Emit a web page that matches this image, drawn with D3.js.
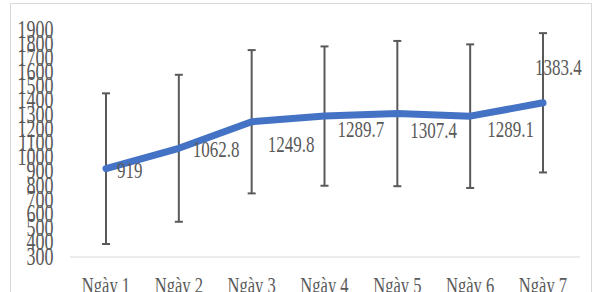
<!DOCTYPE html>
<html>
<head>
<meta charset="utf-8">
<script src="https://cdn.jsdelivr.net/npm/d3@7"></script>
<style>
  body { margin: 0; background: #fff; }
  text { font-family: "Liberation Serif", "Times New Roman", serif; fill: #595959; }
</style>
</head>
<body>
<div id="chart"></div>
<script>
(function () {

    // data
    const days = ['Ngày 1', 'Ngày 2', 'Ngày 3', 'Ngày 4', 'Ngày 5', 'Ngày 6', 'Ngày 7'];
    const means = [919, 1062.8, 1249.8, 1289.7, 1307.4, 1289.1, 1383.4];
    const errors = [531, 518, 505, 491, 512, 506, 491];
    const yTicks = d3.range(300, 2000, 100);

    // label nudges (px) relative to the point
    const labelDx = [11, 14, 16, 13, 13, 17, -8];
    const labelDy = [1, 1, 22, 13, 16, 13, -36];

    const W = 601, H = 292;
    const sx = 0.72; // condensed look of the text

    const svg = d3.select('#chart')
        .append('svg')
        .attr('width', W)
        .attr('height', H);

    // chart border
    svg.append('rect')
        .attr('x', 10.5)
        .attr('y', 3.5)
        .attr('width', 581)
        .attr('height', 300)
        .attr('fill', '#fff')
        .attr('stroke', '#d9d9d9');

    const x = d3.scalePoint()
        .domain(days)
        .range([106, 543]);

    const y = d3.scaleLinear()
        .domain([300, 1900])
        .range([256.5, 29.5]);

    // x axis line
    svg.append('line')
        .attr('x1', 70)
        .attr('x2', 580)
        .attr('y1', y(300) + 0.5)
        .attr('y2', y(300) + 0.5)
        .attr('stroke', '#d9d9d9')
        .attr('stroke-width', 1);

    // y tick labels
    svg.append('g')
        .selectAll('text')
        .data(yTicks)
        .enter()
        .append('text')
        .attr('transform', d => `translate(53.5, ${y(d) + 8}) scale(${sx}, 1)`)
        .attr('text-anchor', 'end')
        .style('font-size', '25px')
        .text(d => d);

    // x labels
    svg.append('g')
        .selectAll('text')
        .data(days)
        .enter()
        .append('text')
        .attr('transform', d => `translate(${x(d)}, 293) scale(${sx}, 1)`)
        .attr('text-anchor', 'middle')
        .style('font-size', '23px')
        .text(d => d);

    // error bars
    const eb = svg.append('g')
        .attr('stroke', '#595959')
        .attr('stroke-width', 2);

    days.forEach((d, i) => {
        const cx = x(d);
        const top = y(means[i] + errors[i]);
        const bot = y(means[i] - errors[i]);
        eb.append('line')
            .attr('x1', cx).attr('x2', cx)
            .attr('y1', top).attr('y2', bot);
        eb.append('line')
            .attr('x1', cx - 4).attr('x2', cx + 4)
            .attr('y1', top).attr('y2', top);
        eb.append('line')
            .attr('x1', cx - 4).attr('x2', cx + 4)
            .attr('y1', bot).attr('y2', bot);
    });

    // mean line
    const line = d3.line()
        .x((d, i) => x(days[i]))
        .y(d => y(d));

    svg.append('path')
        .datum(means)
        .attr('d', line)
        .attr('fill', 'none')
        .attr('stroke', '#4472C4')
        .attr('stroke-width', 7)
        .attr('stroke-linejoin', 'round')
        .attr('stroke-linecap', 'round');

    // data labels
    svg.append('g')
        .selectAll('text')
        .data(means)
        .enter()
        .append('text')
        .attr('transform', (d, i) =>
            `translate(${x(days[i]) + labelDx[i]}, ${y(d) + labelDy[i] + 8}) scale(${sx + 0.02}, 1)`)
        .attr('text-anchor', (d, i) => labelDx[i] < 0 ? 'start' : 'start')
        .style('font-size', '23px')
        .text(d => d);

})();
</script>
</body>
</html>
